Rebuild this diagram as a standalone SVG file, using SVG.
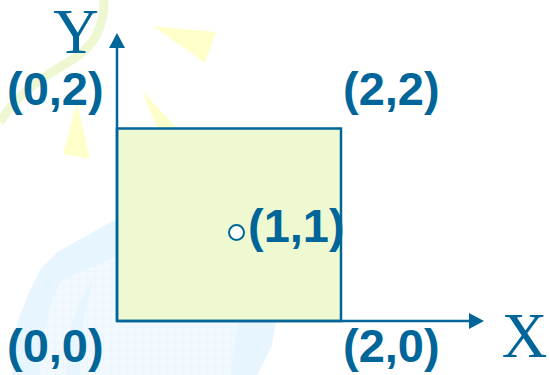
<svg xmlns="http://www.w3.org/2000/svg" width="550" height="375" viewBox="0 0 550 375">
  <style>
    .lbl { font-family: "Liberation Sans", Arial, sans-serif; font-weight: bold; font-size: 47px; fill: #006699; }
    .axl { font-family: "Liberation Serif", "Times New Roman", serif; font-size: 63px; fill: #006699; text-anchor: middle; }
    .ray { fill: #FFFFCC; }
    .ax { stroke: #006699; stroke-width: 2.5; fill: none; }
    .head { fill: #006699; }
  </style>
  <defs>
    <pattern id="grid" width="8" height="8" patternUnits="userSpaceOnUse">
      <rect width="8" height="8" fill="#F1F9FE"/>
      <path d="M8 0 V8 M0 8 H8" stroke="#E4F1FB" stroke-width="0.8"/>
    </pattern>
  </defs>
  <rect width="550" height="375" fill="#FFFFFF"/>
  <g id="background">
    <path d="M104 0 C104 28 94 46 72 60 C48 74 20 90 0 122" fill="none" stroke="#EDF8D2" stroke-width="9"/>
    <polygon class="ray" points="153,26 216,32 205,63"/>
    <polygon class="ray" points="142,91 179,130 158,130"/>
    <polygon class="ray" points="77,102 90,159 63,154"/>
    <path d="M113 221 L100 228 L88 235 L57 252 L40 270 L27 297 L17 323 L12 375 L257 375 L272 345 L276 321 L285 290 L270 240 L220 222 L150 214 Z" fill="#E6F5FE"/>
    <path d="M62 280 C50 300 42 330 40 375 L230 375 L238 322 L245 280 L200 250 L120 255 Z" fill="url(#grid)"/>
    <path d="M92 283 C75 305 66 335 66 375 L80 375 C80 340 84 310 92 283 Z" fill="#E6F5FE"/>
  </g>
  <g id="square">
    <rect x="117" y="128.5" width="224" height="192.5" fill="#EEF9D2" stroke="#006699" stroke-width="2.5"/>
  </g>
  <g id="connectors">
    <line class="ax" x1="117" y1="321" x2="117" y2="46"/>
    <polygon class="head" points="117,33 109,48 125,48"/>
    <line class="ax" x1="117" y1="321" x2="471" y2="321"/>
    <polygon class="head" points="484,321 469,313 469,329"/>
  </g>
  <g id="point-1-1">
    <circle cx="236.5" cy="232.5" r="7.5" fill="#FFFFFF" stroke="#006699" stroke-width="2"/>
    <text class="lbl" x="248" y="242">(1,1)</text>
  </g>
  <g id="label-0-2"><text class="lbl" x="7" y="105">(0,2)</text></g>
  <g id="label-2-2"><text class="lbl" x="343" y="105">(2,2)</text></g>
  <g id="label-0-0"><text class="lbl" x="7" y="362">(0,0)</text></g>
  <g id="label-2-0"><text class="lbl" x="343" y="362">(2,0)</text></g>
  <g id="axis-y-label"><text class="axl" x="76" y="53">Y</text></g>
  <g id="axis-x-label"><text class="axl" x="524.5" y="357">X</text></g>
</svg>
